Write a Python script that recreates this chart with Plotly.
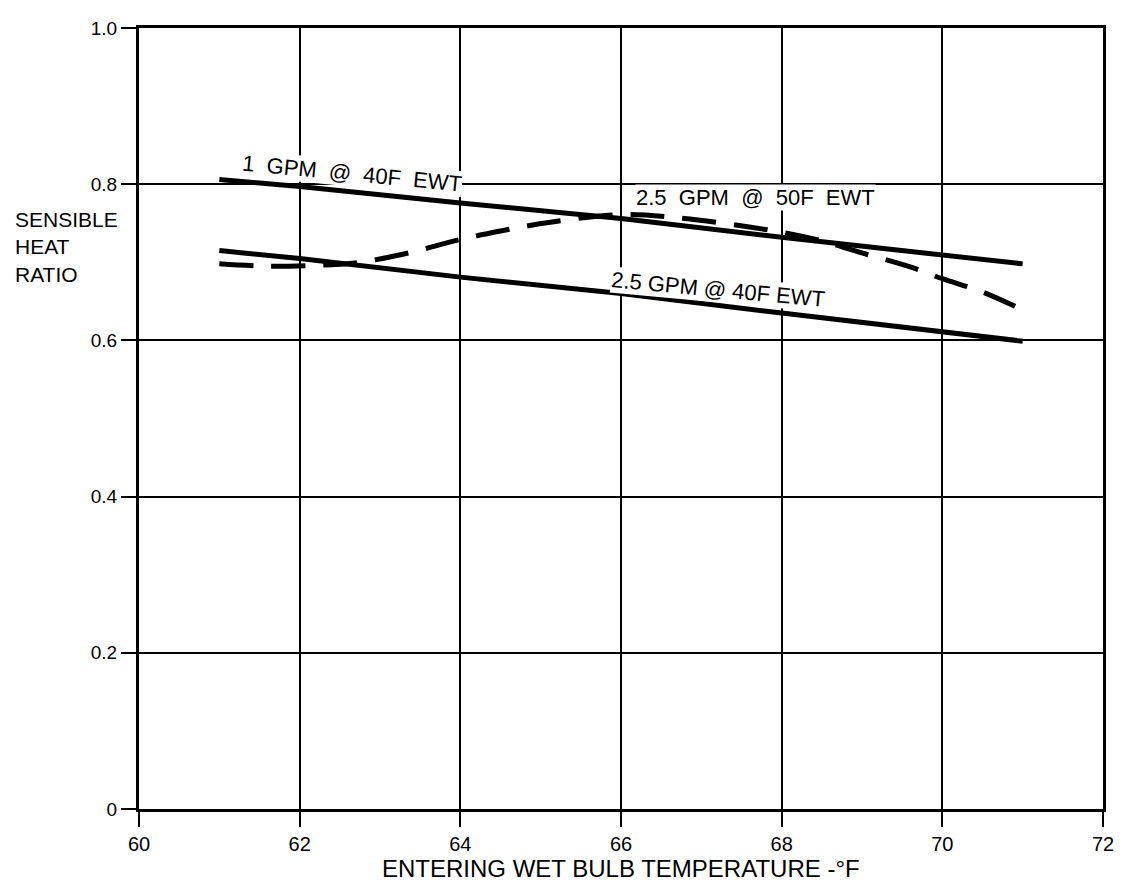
import plotly.graph_objects as go

# Data
x_solid = [61, 62, 64, 66, 68, 70, 71]
gpm1_40f = [0.806, 0.797, 0.776, 0.756, 0.732, 0.710, 0.698]
gpm25_40f = [0.715, 0.705, 0.681, 0.660, 0.635, 0.610, 0.599]

x_dashed = [61, 61.6, 62.4, 62.75, 63.4, 63.95, 64.5, 65.1, 66.0, 66.7, 67.8, 68.4, 69.0, 69.6, 70.0, 70.5, 71.0]
gpm25_50f = [0.698, 0.695, 0.697, 0.700, 0.713, 0.728, 0.740, 0.751, 0.761, 0.757, 0.742, 0.730, 0.712, 0.694, 0.679, 0.662, 0.639]

x_ticks = [60, 62, 64, 66, 68, 70, 72]
x_ticktext = ["60", "62", "64", "66", "68", "70", "72"]
y_ticks = [0, 0.2, 0.4, 0.6, 0.8, 1.0]
y_ticktext = ["0", "0.2", "0.4", "0.6", "0.8", "1.0"]

FONT = "Liberation Sans, Arial, Helvetica, sans-serif"

fig = go.Figure()
fig.add_trace(go.Scatter(x=x_solid, y=gpm1_40f, mode="lines",
                         line=dict(color="black", width=5), showlegend=False))
fig.add_trace(go.Scatter(x=x_solid, y=gpm25_40f, mode="lines",
                         line=dict(color="black", width=5), showlegend=False))
fig.add_trace(go.Scatter(x=x_dashed, y=gpm25_50f, mode="lines",
                         line=dict(color="black", width=5, dash="34px,18px", shape="spline"),
                         showlegend=False))

annotations = [
    dict(x=62.65, y=0.814, text="1  GPM  @  40F  EWT", textangle=5.5,
         font=dict(size=22, color="black", family=FONT), showarrow=False,
         bgcolor="white", borderpad=0),
    dict(x=67.68, y=0.783, text="2.5  GPM  @  50F  EWT", textangle=0,
         font=dict(size=22, color="black", family=FONT), showarrow=False,
         bgcolor="white", borderpad=0),
    dict(x=67.21, y=0.665, text="2.5 GPM @ 40F EWT", textangle=5.3,
         font=dict(size=22, color="black", family=FONT), showarrow=False,
         bgcolor="white", borderpad=0),
    dict(xref="paper", yref="paper", x=-0.1307, y=0.7193, xanchor="left", yanchor="middle",
         text="SENSIBLE<br>HEAT<br>RATIO", align="left", showarrow=False,
         font=dict(size=21, color="black", family=FONT)),
    dict(xref="paper", yref="paper", x=0.5, y=-0.0960, xanchor="center", yanchor="bottom",
         text="ENTERING WET BULB TEMPERATURE -°F", showarrow=False,
         font=dict(size=24, color="black", family=FONT)),
]

fig.update_layout(
    width=1116, height=878,
    margin=dict(l=131, r=21, t=10, b=77),
    paper_bgcolor="white", plot_bgcolor="white",
    font=dict(family=FONT, color="black"),
    annotations=annotations,
    xaxis=dict(range=[60, 72], tickvals=x_ticks, ticktext=x_ticktext,
               showgrid=True, gridcolor="black", gridwidth=2,
               showline=True, linecolor="black", linewidth=3, mirror=True,
               ticks="outside", ticklen=15, tickwidth=2, tickcolor="black",
               tickfont=dict(size=20, family=FONT, color="black"),
               zeroline=False, fixedrange=True),
    yaxis=dict(range=[0, 1], tickvals=y_ticks, ticktext=y_ticktext,
               showgrid=True, gridcolor="black", gridwidth=2,
               showline=True, linecolor="black", linewidth=3, mirror=True,
               ticks="outside", ticklen=15, tickwidth=2, tickcolor="black",
               tickfont=dict(size=19, family=FONT, color="black"),
               zeroline=False, fixedrange=True),
)

fig.write_html("out.html")
